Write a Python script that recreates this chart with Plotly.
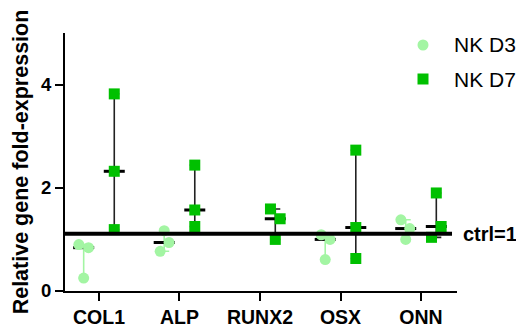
import numpy as np
import plotly.graph_objects as go

# Genes on the x axis
genes = ["COL1", "ALP", "RUNX2", "OSX", "ONN"]

# Relative fold-expression, three replicates per gene (None = not measured)
nk_d3 = [
    [0.90, 0.84, 0.25],
    [1.17, 0.94, 0.77],
    [None, None, None],
    [1.09, 1.00, 0.61],
    [1.38, 1.21, 1.00],
]
nk_d7 = [
    [3.82, 2.32, 1.19],
    [2.44, 1.57, 1.25],
    [1.59, 1.40, 1.00],
    [2.73, 1.23, 0.63],
    [1.90, 1.25, 1.04],
]
series_names = ["NK D3", "NK D7"]
ctrl_level = 1.11
y_ticks = [0, 2, 4]

# Horizontal scatter of the replicate dots inside each group
jitter_d3 = [[-0.06, 0.06, 0.0], [0.0, 0.06, -0.05], [0.0, 0.0, 0.0],
             [-0.05, 0.06, 0.0], [-0.06, 0.05, 0.0]]
jitter_d7 = [[0.0, 0.0, 0.0], [0.0, 0.0, 0.0], [-0.06, 0.06, 0.0],
             [0.0, 0.0, 0.0], [0.0, 0.06, -0.06]]

FONT = "Liberation Sans, Arial, Helvetica, sans-serif"
LIGHT = "#a3f5a3"
DARK = "#00c000"
X_MIN, X_MAX = -0.422, 4.447
W, H = 516, 329
ML, MR, MT, MB = 65, 59, 33, 38

fig = go.Figure()


def add_group(values, jitter, offset, bar_color):
    xs_c, med, lo, hi = [], [], [], []
    for i, reps in enumerate(values):
        v = [r for r in reps if r is not None]
        if not v:
            continue
        m = float(np.median(v))
        xs_c.append(i + offset)
        med.append(m)
        hi.append(max(v) - m)
        lo.append(m - min(v))
    # median bar with min-max range
    fig.add_trace(go.Scatter(
        x=xs_c, y=med, mode="markers", showlegend=False, hoverinfo="skip",
        marker=dict(symbol="line-ew", size=15, color="black",
                    line=dict(width=3, color="black")),
        error_y=dict(type="data", symmetric=False, array=hi, arrayminus=lo,
                     color=bar_color, thickness=1.6, width=5),
    ))
    # individual replicates
    px, py = [], []
    for i, reps in enumerate(values):
        for r, j in zip(reps, jitter[i]):
            if r is None:
                continue
            px.append(i + offset + j)
            py.append(r)
    return px, py


p3x, p3y = add_group(nk_d3, jitter_d3, -0.19, LIGHT)
p7x, p7y = add_group(nk_d7, jitter_d7, 0.19, "#222222")

fig.add_trace(go.Scatter(
    x=p3x, y=p3y, mode="markers", name=series_names[0], showlegend=False,
    marker=dict(symbol="circle", size=11, color=LIGHT),
))
fig.add_trace(go.Scatter(
    x=p7x, y=p7y, mode="markers", name=series_names[1], showlegend=False,
    marker=dict(symbol="square", size=11, color=DARK),
))

# control reference line
fig.add_shape(type="line", xref="x", yref="y", x0=X_MIN, x1=4.385,
              y0=ctrl_level, y1=ctrl_level, layer="above",
              line=dict(color="black", width=4))
fig.add_annotation(x=1.0, xref="paper", y=ctrl_level, yref="y",
                   text="<b>ctrl=1</b>", showarrow=False, xanchor="left",
                   xshift=4, font=dict(family=FONT, size=20, color="black"))


# legend drawn by hand near the top-right corner
def px_to_paper(px, py):
    return (px - ML) / (W - ML - MR), (H - MB - py) / (H - MT - MB)


for (sym, col, py), name in zip([("circle", LIGHT, 45), ("rect", DARK, 79)],
                                series_names):
    ax, ay = px_to_paper(423, py)
    fig.add_shape(type=sym, xref="paper", yref="paper",
                  xsizemode="pixel", ysizemode="pixel",
                  xanchor=ax, yanchor=ay, x0=-5.5, x1=5.5, y0=-5.5, y1=5.5,
                  fillcolor=col, line=dict(width=0), layer="above")
    tx, ty = px_to_paper(452, py)
    fig.add_annotation(x=tx, y=ty, xref="paper", yref="paper", text=name,
                       showarrow=False, xanchor="left", yanchor="middle",
                       font=dict(family=FONT, size=21, color="black"))

fig.update_layout(
    width=W, height=H,
    margin=dict(l=ML, r=MR, t=MT, b=MB),
    paper_bgcolor="white", plot_bgcolor="white",
    font=dict(family=FONT, color="black"),
    showlegend=False,
    xaxis=dict(range=[X_MIN, X_MAX], tickmode="array",
               tickvals=list(range(len(genes))),
               ticktext=[f"<b>{g}</b>" for g in genes],
               showline=True, linecolor="black", linewidth=2,
               ticks="outside", ticklen=8, tickwidth=2, tickcolor="black",
               showgrid=False, zeroline=False, automargin=False,
               tickfont=dict(family=FONT, size=19.5, color="black")),
    yaxis=dict(range=[0, 5], tickmode="array", tickvals=y_ticks,
               ticktext=[f"<b>{t}</b>" for t in y_ticks],
               showline=True, linecolor="black", linewidth=2,
               ticks="outside", ticklen=8, tickwidth=2, tickcolor="black",
               showgrid=False, zeroline=False, automargin=False,
               tickfont=dict(family=FONT, size=18.5, color="black"),
               title=dict(text="<b>Relative gene fold-expression</b>",
                          font=dict(family=FONT, size=21.5, color="black"),
                          standoff=6)),
)

fig.write_html("out.html")
